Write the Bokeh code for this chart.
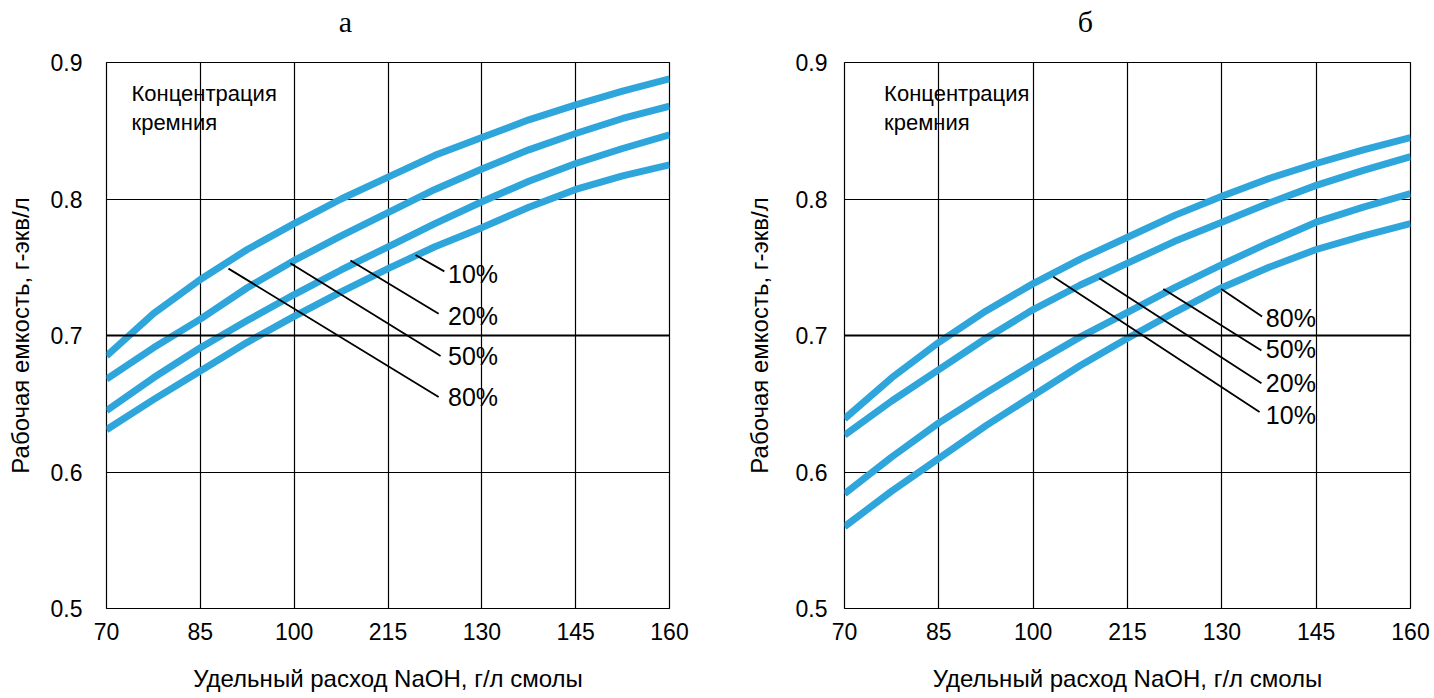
from bokeh.plotting import figure
from bokeh.layouts import row, column
from bokeh.models import Range1d, FixedTicker, Span
from bokeh.core.properties import value
from bokeh.embed import file_html
from bokeh.resources import INLINE

# ---------------- data ----------------
x_vals = [70, 77.5, 85, 92.5, 100, 107.5, 115, 122.5, 130, 137.5, 145, 152.5, 160]
x_ticks = [70, 85, 100, 115, 130, 145, 160]
x_tick_labels = ["70", "85", "100", "215", "130", "145", "160"]
y_ticks = [0.5, 0.6, 0.7, 0.8, 0.9]
series_names = ["10%", "20%", "50%", "80%"]
panel_titles = ["а", "б"]

# panel "а"
a_10 = [0.685, 0.716, 0.741, 0.763, 0.782, 0.800, 0.816, 0.832, 0.845, 0.858, 0.869, 0.879, 0.888]
a_20 = [0.668, 0.691, 0.712, 0.735, 0.755, 0.773, 0.790, 0.807, 0.822, 0.836, 0.848, 0.859, 0.868]
a_50 = [0.645, 0.669, 0.691, 0.711, 0.730, 0.748, 0.765, 0.782, 0.798, 0.813, 0.826, 0.837, 0.847]
a_80 = [0.631, 0.653, 0.674, 0.695, 0.714, 0.732, 0.749, 0.765, 0.779, 0.794, 0.807, 0.817, 0.825]

# panel "б"
b_10 = [0.639, 0.669, 0.695, 0.718, 0.738, 0.756, 0.772, 0.788, 0.802, 0.815, 0.826, 0.836, 0.845]
b_20 = [0.627, 0.652, 0.675, 0.698, 0.719, 0.737, 0.753, 0.769, 0.783, 0.797, 0.810, 0.821, 0.831]
b_50 = [0.584, 0.611, 0.636, 0.658, 0.679, 0.699, 0.717, 0.735, 0.752, 0.768, 0.783, 0.794, 0.804]
b_80 = [0.560, 0.586, 0.610, 0.634, 0.656, 0.678, 0.698, 0.717, 0.735, 0.750, 0.763, 0.773, 0.782]

# leader lines (start on curve -> end near label) and label anchors
a_lead_x0 = [119.4, 109.0, 99.4, 89.5]
a_lead_y0 = [0.759, 0.755, 0.753, 0.749]
a_lead_x1 = [124.0, 123.1, 123.4, 123.1]
a_lead_y1 = [0.747, 0.716, 0.685, 0.655]
a_lab_y = [0.745, 0.714, 0.685, 0.655]

b_lead_x0 = [103.2, 110.5, 120.7, 129.9]
b_lead_y0 = [0.743, 0.742, 0.734, 0.734]
b_lead_x1 = [136.0, 136.3, 136.3, 136.4]
b_lead_y1 = [0.644, 0.665, 0.689, 0.714]
b_lab_y = [0.642, 0.665, 0.690, 0.713]

BLUE = "#2ea6dc"
SANS = "Liberation Sans"
SERIF = "Liberation Serif"
TITLE_H = 40


def make_title(text, width, cx):
    t = figure(width=width, height=TITLE_H, x_range=Range1d(0, width), y_range=Range1d(0, TITLE_H),
               output_backend="svg", toolbar_location=None, x_axis_type=None, y_axis_type=None,
               min_border_left=0, min_border_right=0, min_border_top=0, min_border_bottom=0)
    t.outline_line_color = None
    t.grid.visible = False
    t.text(x=[cx], y=[TITLE_H - 21], text=[text], text_font=value(SERIF), text_font_size="30px",
           text_color="black", text_align="center", text_baseline="middle")
    return t


def make_panel(curves, lead, lab_x, lab_y, note_x, width, bl, br, tick_standoff, label_standoff):
    p = figure(width=width, height=656,
               x_range=Range1d(70, 160), y_range=Range1d(0.5, 0.9),
               output_backend="svg", toolbar_location=None,
               min_border_left=bl, min_border_right=br,
               min_border_top=22, min_border_bottom=88,
               x_axis_label="Удельный расход NaOH, г/л смолы",
               y_axis_label="Рабочая емкость, г-экв/л")
    p.background_fill_color = "white"
    p.border_fill_color = "white"
    p.outline_line_color = "black"
    p.outline_line_width = 1.2

    p.xaxis.ticker = FixedTicker(ticks=x_ticks)
    p.xaxis.major_label_overrides = dict(zip(x_ticks, x_tick_labels))
    p.yaxis.ticker = FixedTicker(ticks=y_ticks)
    p.yaxis.major_label_overrides = {t: f"{t:.1f}" for t in y_ticks}

    for ax in (p.xaxis, p.yaxis):
        ax.axis_line_color = None
        ax.major_tick_line_color = None
        ax.minor_tick_line_color = None
        ax.major_label_text_font = SANS
        ax.major_label_text_font_size = "23px"
        ax.major_label_text_color = "black"
        ax.axis_label_text_font = SANS
        ax.axis_label_text_font_size = "24px"
        ax.axis_label_text_font_style = "normal"
        ax.axis_label_text_color = "black"
    p.yaxis.major_label_standoff = tick_standoff
    p.yaxis.axis_label_standoff = label_standoff
    p.xaxis.major_label_standoff = 8
    p.xaxis.axis_label_standoff = 22

    p.grid.grid_line_color = "black"
    p.grid.grid_line_width = 1.2
    p.add_layout(Span(location=0.7, dimension="width", line_color="black", line_width=2.2))

    for ys in curves:
        p.line(x_vals, ys, line_color=BLUE, line_width=7, line_cap="butt", line_join="round")

    x0, y0, x1, y1 = lead
    p.segment(x0=x0, y0=y0, x1=x1, y1=y1, line_color="black", line_width=1.8)
    p.text(x=[lab_x] * len(series_names), y=lab_y, text=series_names,
           text_font=value(SANS), text_font_size="25px", text_color="black",
           text_align="left", text_baseline="middle")

    p.text(x=[note_x, note_x], y=[0.877, 0.856], text=["Концентрация", "кремния"],
           text_font=value(SANS), text_font_size="22px", text_color="black",
           text_align="left", text_baseline="middle")
    return p


W1, W2 = 720, 710
p1 = make_panel([a_10, a_20, a_50, a_80],
                (a_lead_x0, a_lead_y0, a_lead_x1, a_lead_y1), 124.6, a_lab_y, 74.0,
                W1, 106, W1 - 106 - 563, 18, 14)
p2 = make_panel([b_10, b_20, b_50, b_80],
                (b_lead_x0, b_lead_y0, b_lead_x1, b_lead_y1), 137.0, b_lab_y, 76.3,
                W2, 124, W2 - 124 - 566, 11, 20)
t1 = make_title(panel_titles[0], W1, 345)
t2 = make_title(panel_titles[1], W2, 1085 - W1)

layout = column(row(t1, t2, spacing=0), row(p1, p2, spacing=0), spacing=0)
open("out.html", "w").write(file_html(layout, INLINE))
